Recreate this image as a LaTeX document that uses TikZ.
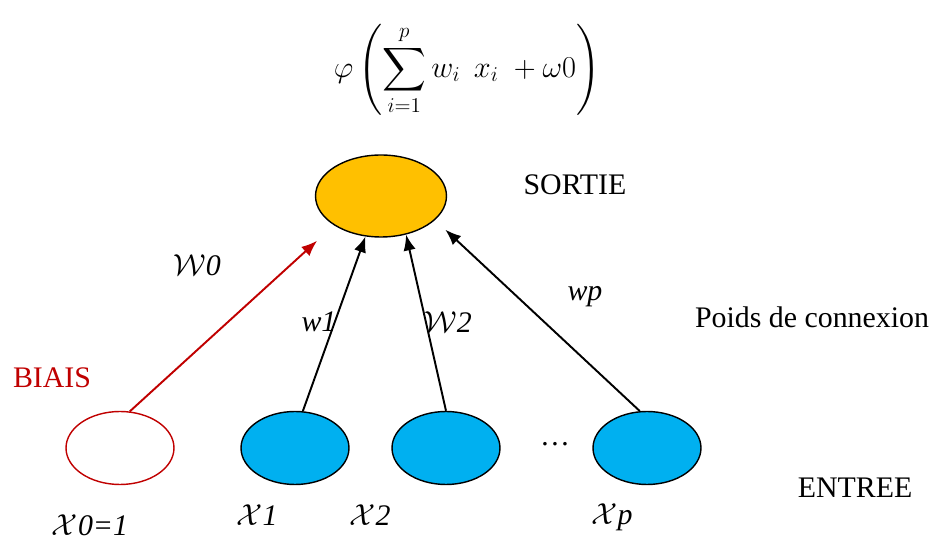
\documentclass[tikz,border=0pt]{standalone}
\usepackage{amsmath}
\usepackage{fontspec}
\setmainfont{Liberation Serif}
\usetikzlibrary{shapes.geometric,arrows.meta,calc}

\definecolor{sortieorange}{RGB}{255,192,0}
\definecolor{entreeblue}{RGB}{0,176,240}
\definecolor{biaisred}{RGB}{192,0,0}

\begin{document}
\begin{tikzpicture}[
    x=0.02cm, y=-0.02cm,
    neuron/.style={ellipse, draw=black, line width=0.8pt, inner sep=0pt,
                minimum width=2.16cm, minimum height=1.46cm},
    output/.style={neuron, fill=sortieorange, minimum width=2.62cm, minimum height=1.64cm},
    input/.style={neuron, fill=entreeblue},
    bias/.style={neuron, draw=biaisred, fill=white},
    label/.style={font=\fontsize{17}{20}\selectfont, inner sep=1pt},
    weight/.style={label, font=\fontsize{17}{20}\selectfont\itshape},
    arrow/.style={-{Latex[length=9pt,width=7pt]}, line width=1.1pt, black},
    biasarrow/.style={arrow, biaisred}
]
    \useasboundingbox (0,0) rectangle (938,540);

    % formula
    \node[inner sep=0pt, font=\fontsize{18}{22}\selectfont] (phi) at (467,70)
        {$\displaystyle \varphi\left(\sum_{i=1}^{p} w_i\;\, x_i\; + \omega 0\right)$};

    % neurons
    \node[output] (out) at (381,196) {};
    \node[bias] (b) at (120,448) {};
    \node[input] (x1) at (295,448) {};
    \node[input] (x2) at (446,448) {};
    \node[input] (xp) at (647,448) {};
    \node[label] (dots) at (555,444) {\dots};

    % connections
    \draw[biasarrow, shorten >=13pt] (b.75) -- (out.212);
    \draw[arrow] (x1.78) -- (out.249);
    \draw[arrow] (x2.north) -- (out.303);
    \draw[arrow, shorten >=8pt] (xp.101) -- (out.336);

    % weights
    \node[weight] (w0) at (197,265) {$\mathcal{W}$0};
    \node[weight] (w1) at (319,322) {w1};
    \node[weight] (w2) at (448,322) {$\mathcal{W}$2};
    \node[weight] (wp) at (585,297) {wp};

    % texts
    \node[label] (sortie) at (575,185) {SORTIE};
    \node[label] (poids) at (812,317) {Poids de connexion};
    \node[label, text=biaisred] (biais) at (52,378) {BIAIS};
    \node[label] (entree) at (855,488) {ENTREE};

    \node[weight] (lx0) at (90,525) {$\mathcal{X}$0=1};
    \node[weight] (lx1) at (257,515) {$\mathcal{X}$1};
    \node[weight] (lx2) at (370,515) {$\mathcal{X}$2};
    \node[weight] (lxp) at (612,517) {$\mathcal{X}$p};
\end{tikzpicture}
\end{document}
